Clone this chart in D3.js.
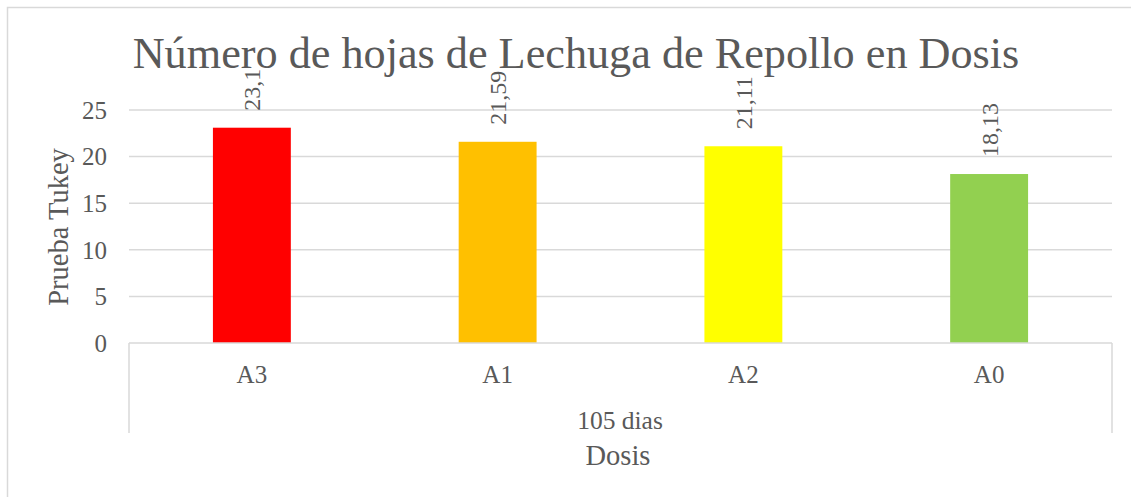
<!DOCTYPE html>
<html>
<head>
<meta charset="utf-8">
<script src="https://cdn.jsdelivr.net/npm/d3@7"></script>
<style>
  body { margin: 0; background: #fff; }
  text { font-family: "Liberation Serif", "DejaVu Serif", serif; fill: #595959; }
</style>
</head>
<body>
<svg></svg>
<script>
var width = 1131,
    height = 497;

var categories = ["A3", "A1", "A2", "A0"];
var values = [23.1, 21.59, 21.11, 18.13];
var valueLabels = ["23,1", "21,59", "21,11", "18,13"];
var colors = ["#FF0000", "#FFC000", "#FFFF00", "#92D050"];
var yTicks = [0, 5, 10, 15, 20, 25];
var groupLabel = "105 dias";
var title = "Número de hojas de Lechuga de Repollo en Dosis";
var yTitle = "Prueba Tukey";
var xTitle = "Dosis";

var svg = d3.select("svg").attr("width", width).attr("height", height);

svg.append("rect")
    .attr("width", width)
    .attr("height", height)
    .attr("fill", "#fff");

// marco del grafico
svg.append("rect")
    .attr("x", 7.5)
    .attr("y", 7.5)
    .attr("width", width + 10)
    .attr("height", height + 10)
    .attr("fill", "none")
    .attr("stroke", "#D9D9D9")
    .attr("stroke-width", 1.5);

var x = d3.scaleBand()
    .domain(categories)
    .range([129, 1112])
    .paddingInner(0.683)
    .paddingOuter(0.3415);

var y = d3.scaleLinear()
    .domain([0, 25])
    .range([343, 110]);

// lineas de cuadricula
svg.selectAll(".grid").data(yTicks.filter(function(d) { return d > 0; }))
    .enter()
    .append("line")
        .attr("x1", 129)
        .attr("x2", 1112)
        .attr("y1", function(d) { return y(d); })
        .attr("y2", function(d) { return y(d); })
        .attr("stroke", "#D9D9D9")
        .attr("stroke-width", 1.5);

// etiquetas eje y
svg.selectAll(".ytick").data(yTicks)
    .enter()
    .append("text")
        .attr("x", 107)
        .attr("y", function(d) { return y(d); })
        .attr("dy", "0.35em")
        .attr("text-anchor", "end")
        .style("font-size", "25px")
        .text(function(d) { return d; });

// barras
svg.selectAll(".bar").data(values)
    .enter()
    .append("rect")
        .attr("x", function(d, i) { return x(categories[i]); })
        .attr("y", function(d) { return y(d); })
        .attr("width", x.bandwidth())
        .attr("height", function(d) { return y(0) - y(d); })
        .attr("fill", function(d, i) { return colors[i]; });

// eje de categorias
var axis = svg.append("g").attr("stroke", "#D9D9D9").attr("stroke-width", 1.5);
axis.append("line").attr("x1", 129).attr("x2", 1112).attr("y1", y(0)).attr("y2", y(0));
axis.append("line").attr("x1", 129).attr("x2", 129).attr("y1", y(0)).attr("y2", 433);
axis.append("line").attr("x1", 1112).attr("x2", 1112).attr("y1", y(0)).attr("y2", 433);

svg.selectAll(".xlabel").data(categories)
    .enter()
    .append("text")
        .attr("x", function(d) { return x(d) + x.bandwidth() / 2; })
        .attr("y", 383)
        .attr("text-anchor", "middle")
        .style("font-size", "25px")
        .text(function(d) { return d; });

svg.append("text")
    .attr("x", 620)
    .attr("y", 429)
    .attr("text-anchor", "middle")
    .style("font-size", "25.5px")
    .text(groupLabel);

// etiquetas de datos
svg.selectAll(".vlabel").data(values)
    .enter()
    .append("text")
        .attr("transform", function(d, i) {
            return "translate(" + (x(categories[i]) + x.bandwidth() / 2) + "," + (y(d) - 17) + ") rotate(-90)";
        })
        .attr("dy", "0.35em")
        .style("font-size", "24px")
        .text(function(d, i) { return valueLabels[i]; });

// titulos
var t = svg.append("text")
    .attr("x", 576)
    .attr("y", 68)
    .attr("text-anchor", "middle")
    .style("font-size", "42px")
    .text(title);
t.style("font-size", (42 * 887 / t.node().getComputedTextLength()) + "px");

svg.append("text")
    .attr("transform", "translate(68,227) rotate(-90)")
    .attr("text-anchor", "middle")
    .style("font-size", "28.5px")
    .text(yTitle);

svg.append("text")
    .attr("x", 618)
    .attr("y", 465)
    .attr("text-anchor", "middle")
    .style("font-size", "28.5px")
    .text(xTitle);
</script>
</body>
</html>
